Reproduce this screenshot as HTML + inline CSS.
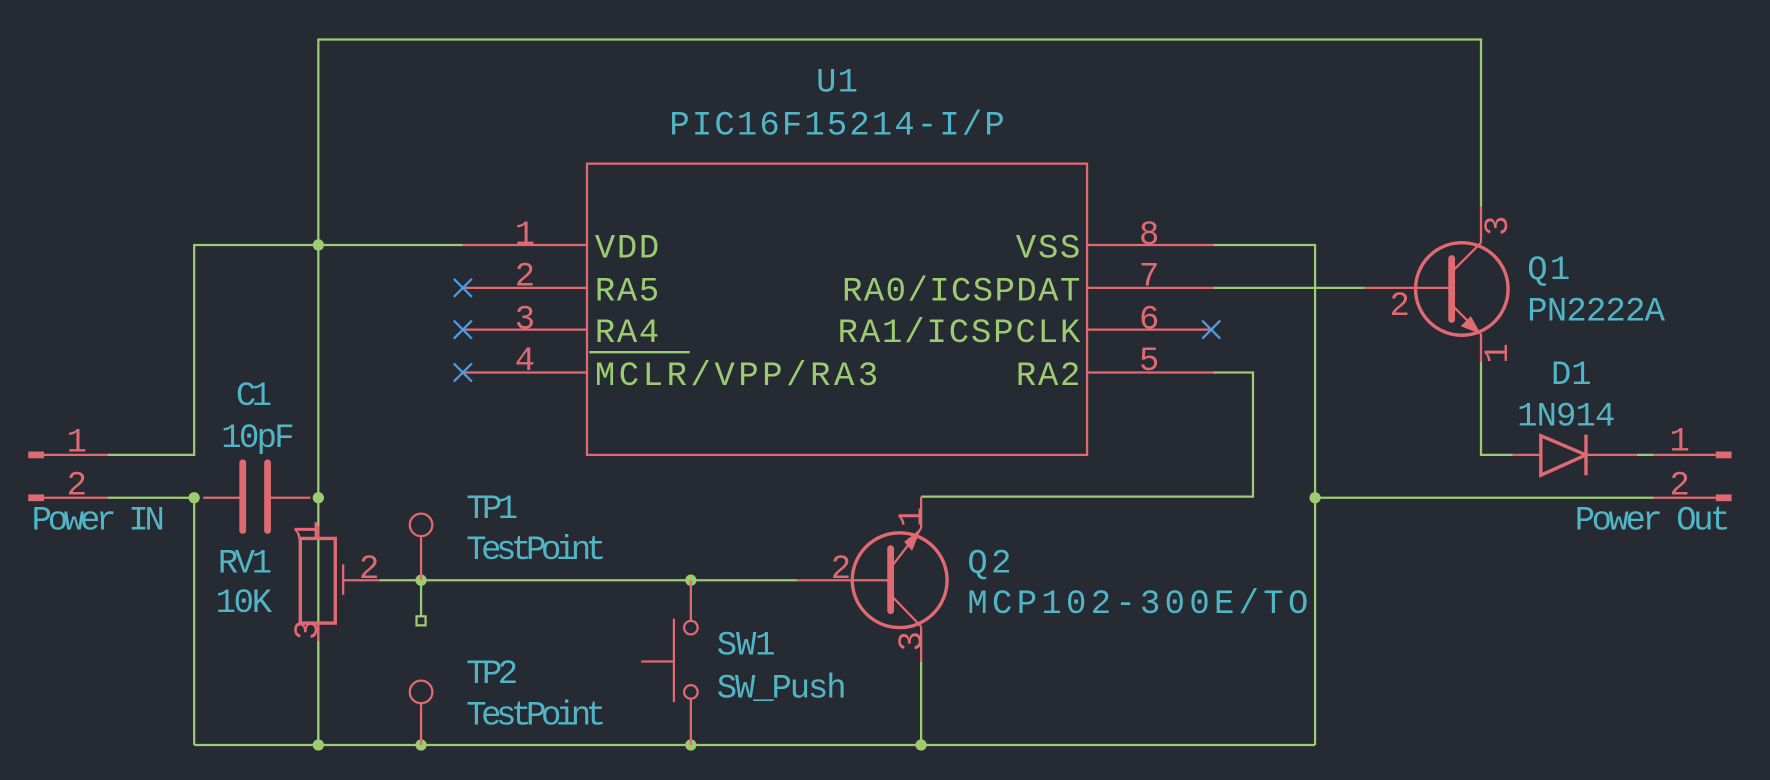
<!DOCTYPE html>
<html><head><meta charset="utf-8"><style>
html,body{margin:0;padding:0;background:#262a33;}
svg{display:block}
text{font-family:"Liberation Mono",monospace;font-size:30px;}
.c{fill:#52b5c5}.g{fill:#9ccb72}.r{fill:#e06a72}
</style></head><body>
<svg width="1770" height="780" viewBox="0 0 1568 691" xmlns="http://www.w3.org/2000/svg">
<rect width="1568" height="691" fill="#262a33"/>
<g stroke="#9ccb72" stroke-width="2" fill="none">
<polyline points="282,660 282,35 1312,35 1312,183"/>
<polyline points="410,217 172,217 172,403 95,403"/>
<line x1="95" y1="441" x2="172" y2="441"/>
<line x1="172" y1="441" x2="172" y2="660"/>
<line x1="172" y1="660" x2="1165" y2="660"/>
<line x1="282" y1="568" x2="282" y2="660"/>
<line x1="336" y1="514" x2="706" y2="514"/>
<line x1="373" y1="514" x2="373" y2="546"/>
<rect x="369" y="546" width="8" height="8"/>
<polyline points="1075,217 1165,217 1165,660"/>
<line x1="1165" y1="441" x2="1465" y2="441"/>
<line x1="1075" y1="255" x2="1209" y2="255"/>
<polyline points="1075,330 1110,330 1110,440 816,440"/>
<line x1="816" y1="586" x2="816" y2="660"/>
<polyline points="1312,320 1312,403 1340,403"/>
<line x1="1450" y1="403" x2="1465" y2="403"/>
</g>
<g fill="#9ccb72">
<circle cx="282" cy="217" r="5"/><circle cx="172" cy="441" r="5"/><circle cx="282" cy="441" r="5"/>
<circle cx="373" cy="514" r="5"/><circle cx="612" cy="514" r="5"/>
<circle cx="282" cy="660" r="5"/><circle cx="373" cy="660" r="5"/><circle cx="612" cy="660" r="5"/><circle cx="816" cy="660" r="5"/>
<circle cx="1165" cy="441" r="5"/>
</g>
<g stroke="#e06a72" stroke-width="2" fill="none">
<rect x="520" y="145" width="443" height="258"/>
<line x1="410" y1="217" x2="520" y2="217"/><line x1="410" y1="255" x2="520" y2="255"/>
<line x1="410" y1="292" x2="520" y2="292"/><line x1="410" y1="330" x2="520" y2="330"/>
<line x1="963" y1="217" x2="1075" y2="217"/><line x1="963" y1="255" x2="1075" y2="255"/>
<line x1="963" y1="292" x2="1075" y2="292"/><line x1="963" y1="330" x2="1075" y2="330"/>
<line x1="38" y1="403" x2="95" y2="403"/><line x1="38" y1="441" x2="95" y2="441"/>
<line x1="180" y1="441" x2="215" y2="441"/><line x1="237" y1="441" x2="275" y2="441"/>
<rect x="266" y="477" width="31" height="75" stroke-width="3"/>
<line x1="282" y1="466" x2="282" y2="477"/><line x1="282" y1="552" x2="282" y2="568"/>
<line x1="304" y1="500" x2="304" y2="527"/><line x1="304" y1="514" x2="336" y2="514"/>
<circle cx="373" cy="465" r="10"/><line x1="373" y1="475" x2="373" y2="514"/>
<circle cx="373" cy="613" r="10"/><line x1="373" y1="623" x2="373" y2="660"/>
<line x1="612" y1="514" x2="612" y2="550"/><circle cx="612" cy="556" r="6"/>
<circle cx="612" cy="613" r="6"/><line x1="612" y1="619" x2="612" y2="660"/>
<line x1="597" y1="548" x2="597" y2="622"/><line x1="568" y1="586" x2="597" y2="586"/>
<line x1="706" y1="514" x2="789" y2="514"/>
<circle cx="797" cy="514" r="42" stroke-width="3"/>
<line x1="789" y1="503" x2="816" y2="468"/><line x1="816" y1="468" x2="816" y2="440"/>
<line x1="789" y1="527" x2="816" y2="555"/><line x1="816" y1="555" x2="816" y2="586"/>
<line x1="1209" y1="255" x2="1286" y2="255"/>
<circle cx="1295" cy="256" r="41" stroke-width="3"/>
<line x1="1312" y1="183" x2="1312" y2="215"/><line x1="1312" y1="215" x2="1286" y2="241"/>
<line x1="1286" y1="270" x2="1312" y2="296"/><line x1="1312" y1="296" x2="1312" y2="320"/>
<line x1="1340" y1="403" x2="1365" y2="403"/>
<polygon points="1365,386 1365,421 1405,403" stroke-width="3"/>
<line x1="1405" y1="385" x2="1405" y2="421" stroke-width="3"/>
<line x1="1405" y1="403" x2="1450" y2="403"/>
<line x1="1465" y1="403" x2="1520" y2="403"/><line x1="1465" y1="441" x2="1520" y2="441"/>
</g>
<g stroke="#e06a72" stroke-width="6" stroke-linecap="round">
<line x1="215" y1="410" x2="215" y2="470"/><line x1="237" y1="410" x2="237" y2="470"/>
<line x1="789" y1="486" x2="789" y2="541"/><line x1="1286" y1="229" x2="1286" y2="283"/>
</g>
<g fill="#e06a72">
<rect x="25" y="400" width="14" height="6"/><rect x="25" y="438" width="14" height="6"/>
<rect x="1520" y="400" width="14" height="6"/><rect x="1520" y="438" width="14" height="6"/>
<polygon points="816,468 801,480 808,488"/>
<polygon points="1312,296 1294,289 1303,280"/>
</g>
<g stroke="#4a9ee6" stroke-width="2">
<path d="M402,247 l16,16 M418,247 l-16,16"/><path d="M402,284 l16,16 M418,284 l-16,16"/>
<path d="M402,322 l16,16 M418,322 l-16,16"/><path d="M1065,284 l16,16 M1081,284 l-16,16"/>
</g>
<line x1="522" y1="312" x2="611" y2="312" stroke="#9ccb72" stroke-width="2"/>
<g class="c">
<text x="723" y="81" textLength="37">U1</text>
<text x="593" y="119" textLength="297">PIC16F15214-I/P</text>
<text x="209" y="359" textLength="32">C1</text>
<text x="196" y="396" textLength="65">10pF</text>
<text x="28" y="469" textLength="118">Power IN</text>
<text x="193" y="507" textLength="48">RV1</text>
<text x="191" y="542" textLength="50">10K</text>
<text x="413" y="459" textLength="46">TP1</text>
<text x="413" y="495" textLength="124">TestPoint</text>
<text x="413" y="605" textLength="46">TP2</text>
<text x="413" y="642" textLength="124">TestPoint</text>
<text x="635" y="580" textLength="52">SW1</text>
<text x="635" y="618" textLength="115">SW_Push</text>
<text x="857" y="507" textLength="39">Q2</text>
<text x="857" y="543" textLength="302">MCP102-300E/TO</text>
<text x="1353" y="247" textLength="38">Q1</text>
<text x="1353" y="284" textLength="122">PN2222A</text>
<text x="1374" y="340" textLength="36">D1</text>
<text x="1344" y="377" textLength="87">1N914</text>
<text x="1395" y="469" textLength="138">Power Out</text>
</g>
<g class="g">
<text x="527" y="228" textLength="57">VDD</text>
<text x="527" y="266" textLength="57">RA5</text>
<text x="527" y="303" textLength="57">RA4</text>
<text x="527" y="341" textLength="251">MCLR/VPP/RA3</text>
<text x="957" y="228" text-anchor="end" textLength="57">VSS</text>
<text x="957" y="266" text-anchor="end" textLength="211">RA0/ICSPDAT</text>
<text x="957" y="303" text-anchor="end" textLength="215">RA1/ICSPCLK</text>
<text x="957" y="341" text-anchor="end" textLength="57">RA2</text>
</g>
<g class="r" text-anchor="middle">
<text x="465" y="216">1</text><text x="465" y="253">2</text><text x="465" y="291">3</text><text x="465" y="328">4</text>
<text x="1018" y="216">8</text><text x="1018" y="253">7</text><text x="1018" y="291">6</text><text x="1018" y="328">5</text>
<text x="68" y="400">1</text><text x="68" y="438">2</text>
<text x="1488" y="399">1</text><text x="1488" y="438">2</text>
<text x="327" y="512">2</text>
<text x="745" y="512">2</text>
<text x="1240" y="279">2</text>
<text transform="translate(271,470) rotate(-90)" y="10">1</text>
<text transform="translate(271,558) rotate(-90)" y="10">3</text>
<text transform="translate(806,458) rotate(-90)" y="10">1</text>
<text transform="translate(806,568) rotate(-90)" y="10">3</text>
<text transform="translate(1325,200) rotate(-90)" y="10">3</text>
<text transform="translate(1325,313) rotate(-90)" y="10">1</text>
</g>
</svg>
</body></html>
